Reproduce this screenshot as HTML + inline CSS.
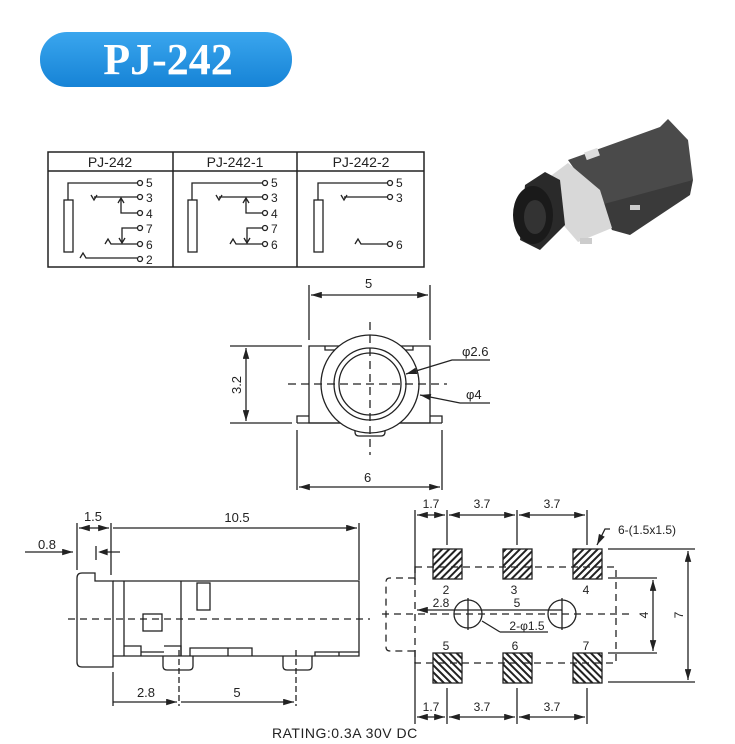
<!DOCTYPE html>
<html><head><meta charset="utf-8"><style>
html,body{margin:0;padding:0;background:#fff;}
svg{display:block;}
text{font-family:"Liberation Sans",Arial,sans-serif;fill:#222;}
</style></head><body>
<svg width="735" height="744" viewBox="0 0 735 744" xmlns="http://www.w3.org/2000/svg">
<defs>
<linearGradient id="bg" x1="0" y1="0" x2="0" y2="1"><stop offset="0" stop-color="#3aa6ee"/><stop offset="1" stop-color="#1683d6"/></linearGradient>
<pattern id="h1" width="5" height="5" patternUnits="userSpaceOnUse" patternTransform="rotate(45)"><rect width="5" height="5" fill="#fff"/><rect width="2" height="5" fill="#222"/></pattern>
<pattern id="h2" width="5" height="5" patternUnits="userSpaceOnUse" patternTransform="rotate(-45)"><rect width="5" height="5" fill="#fff"/><rect width="2" height="5" fill="#222"/></pattern>
<marker id="a" viewBox="0 0 10 6" refX="10" refY="3" markerWidth="9" markerHeight="5" orient="auto-start-reverse"><path d="M0,0L10,3L0,6z" fill="#222"/></marker>
</defs>
<!-- title -->
<rect x="40" y="32" width="252" height="55" rx="27" fill="url(#bg)"/>
<text x="168" y="74" text-anchor="middle" style="font-family:'Liberation Serif',serif;font-weight:bold;font-size:44px;fill:#fff">PJ-242</text>

<!-- table -->
<g stroke="#222" fill="none" stroke-width="1.5">
<rect x="48" y="152" width="376" height="115"/>
<line x1="48" y1="171" x2="424" y2="171"/>
<line x1="173" y1="152" x2="173" y2="267"/>
<line x1="297" y1="152" x2="297" y2="267"/>
</g>
<g font-size="14" text-anchor="middle"><text x="110" y="167">PJ-242</text><text x="235" y="167">PJ-242-1</text><text x="361" y="167">PJ-242-2</text></g>
<g stroke="#222" fill="none" stroke-width="1.3">
<!-- col1 -->
<rect x="64" y="200" width="9" height="52"/>
<path d="M68,200V183H137"/><circle cx="140" cy="183" r="2.5"/>
<path d="M91,195l3,5l3,-5M94,197H137"/><circle cx="140" cy="197" r="2.5"/>
<path d="M121,199V213H137"/><path d="M118,203l3,-5l3,5"/><circle cx="140" cy="213" r="2.5"/>
<path d="M137,228H122V243"/><path d="M119,238l3,5l3,-5"/><circle cx="140" cy="228" r="2.5"/>
<path d="M105,244l3,-5l3,5H137"/><circle cx="140" cy="244" r="2.5"/>
<path d="M80,258l3,-5l3,5H137"/><circle cx="140" cy="259" r="2.5"/>
<!-- col2 -->
<rect x="188" y="200" width="9" height="52"/>
<path d="M192,200V183H262"/><circle cx="265" cy="183" r="2.5"/>
<path d="M216,195l3,5l3,-5M219,197H262"/><circle cx="265" cy="197" r="2.5"/>
<path d="M246,199V213H262"/><path d="M243,203l3,-5l3,5"/><circle cx="265" cy="213" r="2.5"/>
<path d="M262,228H247V243"/><path d="M244,238l3,5l3,-5"/><circle cx="265" cy="228" r="2.5"/>
<path d="M230,244l3,-5l3,5H262"/><circle cx="265" cy="244" r="2.5"/>
<!-- col3 -->
<rect x="314" y="200" width="9" height="52"/>
<path d="M318,200V183H387"/><circle cx="390" cy="183" r="2.5"/>
<path d="M341,195l3,5l3,-5M344,197H387"/><circle cx="390" cy="197" r="2.5"/>
<path d="M355,244l3,-5l3,5H387"/><circle cx="390" cy="244" r="2.5"/>
</g>
<g font-size="12"><text x="146" y="187">5</text><text x="146" y="202">3</text><text x="146" y="218">4</text><text x="146" y="233">7</text><text x="146" y="249">6</text><text x="146" y="264">2</text>
<text x="271" y="187">5</text><text x="271" y="202">3</text><text x="271" y="218">4</text><text x="271" y="233">7</text><text x="271" y="249">6</text>
<text x="396" y="187">5</text><text x="396" y="202">3</text><text x="396" y="249">6</text></g>

<!-- photo -->
<polygon points="568,160 660,127 668,119 688,140 693,180 625,225 600,205" fill="#4a4a4a"/>
<polygon points="600,205 693,180 690,195 630,235 612,230" fill="#3a3a3a"/>
<polygon points="548,178 568,163 600,190 612,228 578,242 552,212" fill="#d8d8d8"/>
<rect x="585" y="150" width="14" height="8" fill="#ddd" transform="rotate(-20 592 154)"/>
<rect x="630" y="205" width="10" height="5" fill="#ccc"/><rect x="580" y="238" width="12" height="6" fill="#ccc"/>
<polygon points="525,185 545,172 560,180 565,225 540,250 520,240" fill="#2a2a2a"/>
<ellipse cx="533" cy="215" rx="20" ry="29" fill="#1a1a1a"/>
<ellipse cx="535" cy="217" rx="11" ry="17" fill="#333"/>

<!-- front view -->
<g stroke="#222" fill="none" stroke-width="1.3">
<path d="M309,350V346H430V350M309,346V423H430V346"/>
<path d="M325,346v4h13M413,346v4h-13"/>
<path d="M297,423v-7h12M442,423v-7h-12M297,423H442"/>
<path d="M355,423v9q0,4 4,4h22q4,0 4,-4v-9"/>
<circle cx="370" cy="384" r="49" fill="#fff"/>
<circle cx="370" cy="384" r="36"/><circle cx="370" cy="384" r="31"/>
<path d="M288,384H447M370,322V455" stroke-dasharray="8,5"/>
<path d="M309,340V285M430,340V285"/>
<path d="M311,295H428" marker-start="url(#a)" marker-end="url(#a)"/>
<path d="M230,346H302M230,423H292"/>
<path d="M246,348V421" marker-start="url(#a)" marker-end="url(#a)"/>
<path d="M297,430V490M442,430V490"/>
<path d="M299,487H440" marker-start="url(#a)" marker-end="url(#a)"/>
<path d="M490,360H452L406,374" marker-end="url(#a)"/>
<path d="M490,403H460L420,395" marker-end="url(#a)"/>
</g>
<g font-size="13"><text x="365" y="288">5</text><text x="364" y="482">6</text>
<text x="462" y="356">φ2.6</text><text x="466" y="399">φ4</text>
<text transform="translate(241,385) rotate(-90)" text-anchor="middle">3.2</text></g>

<!-- side view -->
<g stroke="#222" fill="none" stroke-width="1.3">
<path d="M77,523V570M111,523V575M359,523V580"/>
<path d="M79,528H109" marker-start="url(#a)" marker-end="url(#a)"/>
<path d="M113,528H357" marker-end="url(#a)"/>
<path d="M25,552H73" marker-end="url(#a)"/>
<path d="M96,546V560M120,552H100" /><path d="M100,552l7,-2.5v5z" fill="#222"/>
<path d="M113,581H95V573H82Q77,573 77,578V662Q77,667 82,667H113Z"/>
<path d="M113,581H359V656H113"/>
<path d="M124,581V656M181,581V656"/>
<rect x="197" y="583" width="13" height="27"/>
<rect x="143" y="614" width="19" height="17"/>
<path d="M124,646h17v10M141,652h23M164,646h17v10M190,656v-8h38v8M228,648h24v8M252,652h0M315,656v-4h44M339,652v4"/>
<path d="M163,656v10q0,4 4,4h22q4,0 4,-4v-10M283,656v10q0,4 4,4h21q4,0 4,-4v-10"/>
<path d="M68,619H370" stroke-dasharray="7,5"/>
<path d="M179,650V706M296,650V706" stroke-dasharray="6,3"/>
<path d="M113,672V706"/>
<path d="M113,702H177" marker-end="url(#a)"/>
<path d="M181,702H294" marker-end="url(#a)"/>
</g>
<g font-size="13" text-anchor="middle"><text x="93" y="521">1.5</text><text x="237" y="522">10.5</text><text x="47" y="549">0.8</text><text x="146" y="697">2.8</text><text x="237" y="697">5</text></g>

<!-- footprint -->
<g stroke="#222" stroke-width="1.3">
<rect x="433" y="549" width="29" height="30" fill="url(#h1)"/>
<rect x="503" y="549" width="29" height="30" fill="url(#h1)"/>
<rect x="573" y="549" width="29" height="30" fill="url(#h1)"/>
<rect x="433" y="653" width="29" height="30" fill="url(#h2)"/>
<rect x="503" y="653" width="29" height="30" fill="url(#h2)"/>
<rect x="573" y="653" width="29" height="30" fill="url(#h2)"/>
</g>
<g stroke="#222" fill="none" stroke-width="1.3">
<path d="M415,567H616V663H415Z" stroke-dasharray="7,5"/>
<path d="M415,578H390Q386,578 386,582V647Q386,651 390,651H415" stroke-dasharray="7,5"/>
<path d="M382,614H632" stroke-dasharray="7,5"/>
<circle cx="468" cy="614" r="14"/><circle cx="562" cy="614" r="14"/>
<path d="M468,598V630M562,598V630"/>
<path d="M562,610H417" marker-end="url(#a)"/>
<path d="M500,632H548M500,632L482,621"/>
<path d="M415,510V580M447,510V545M517,510V545M587,510V545"/>
<path d="M417,515H445" marker-start="url(#a)" marker-end="url(#a)"/>
<path d="M449,515H515" marker-start="url(#a)" marker-end="url(#a)"/>
<path d="M519,515H585" marker-start="url(#a)" marker-end="url(#a)"/>
<path d="M415,650V724M447,688V724M517,688V724M587,688V724"/>
<path d="M417,717H445" marker-start="url(#a)" marker-end="url(#a)"/>
<path d="M449,717H515" marker-start="url(#a)" marker-end="url(#a)"/>
<path d="M519,717H585" marker-start="url(#a)" marker-end="url(#a)"/>
<path d="M608,549H695M608,682H695M608,578H657M608,653H657"/>
<path d="M688,551V680" marker-start="url(#a)" marker-end="url(#a)"/>
<path d="M653,580V651" marker-start="url(#a)" marker-end="url(#a)"/>
<path d="M610,529H605L597,545" marker-end="url(#a)"/>
</g>
<g font-size="12" text-anchor="middle">
<text x="431" y="508">1.7</text><text x="482" y="508">3.7</text><text x="552" y="508">3.7</text>
<text x="431" y="711">1.7</text><text x="482" y="711">3.7</text><text x="552" y="711">3.7</text>
<text x="446" y="594">2</text><text x="514" y="594">3</text><text x="586" y="594">4</text>
<text x="446" y="650">5</text><text x="515" y="650">6</text><text x="586" y="650">7</text>
<text x="441" y="607">2.8</text><text x="517" y="607">5</text>
<text x="527" y="630">2-φ1.5</text>
<text x="647" y="534">6-(1.5x1.5)</text>
<text transform="translate(648,615) rotate(-90)">4</text>
<text transform="translate(683,615) rotate(-90)">7</text>
</g>
<text x="272" y="738" font-size="14" style="letter-spacing:0.5px">RATING:0.3A 30V DC</text>
</svg>
</body></html>
